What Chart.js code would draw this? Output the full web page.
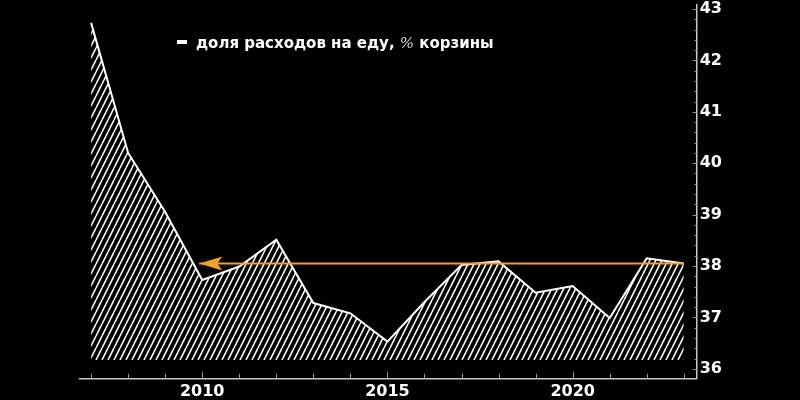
<!DOCTYPE html>
<html>
<head>
<meta charset="utf-8">
<script src="https://cdn.jsdelivr.net/npm/chart.js@4"></script>
<style>
    html, body { margin: 0; padding: 0; background: #000; }
    canvas { display: block; }
</style>
</head>
<body>
<canvas id="chart" width="800" height="400"></canvas>
<script>
// данные: доля расходов на еду, % корзины
const YEARS = [2007, 2008, 2009, 2010, 2011, 2012, 2013, 2014, 2015, 2016, 2017, 2018, 2019, 2020, 2021, 2022, 2023];
const FOOD_SHARE = [42.73, 40.20, 39.05, 37.73, 37.99, 38.51, 37.28, 37.08, 36.53, 37.30, 38.02, 38.09, 37.48, 37.61, 36.99, 38.15, 38.05];
const X_TICK_LABELS = [2010, 2015, 2020];
const Y_TICK_LABELS = [36, 37, 38, 39, 40, 41, 42, 43];
const FILL_BASE = 36.17;
const ARROW_LEVEL = 38.05;
const ARROW_TIP_YEAR = 2009.92;
const LEGEND_TEXT = ['доля расходов на еду, ', '%', ' корзины'];

const FONT = '"DejaVu Sans", Verdana, sans-serif';
const ORANGE = '#f4a128';

function makeHatch() {
    const w = 6, h = 12;
    const c = document.createElement('canvas');
    c.width = w;
    c.height = h;
    const g = c.getContext('2d');
    g.strokeStyle = '#fff';
    g.lineWidth = 1.5;
    [-w, 0, w].forEach(dx => {
        g.beginPath();
        g.moveTo(dx, h);
        g.lineTo(dx + w, 0);
        g.stroke();
    });
    return document.getElementById('chart').getContext('2d').createPattern(c, 'repeat');
}

const innerTicks = {
    id: 'innerTicks',
    afterDraw(chart) {
        const ctx = chart.ctx;
        const x = chart.scales.x, y = chart.scales.y;
        const area = chart.chartArea;
        ctx.save();
        ctx.strokeStyle = '#9a9a9a';
        ctx.lineWidth = 1;
        YEARS.forEach(year => {
            const px = Math.round(x.getPixelForValue(year)) + 0.5;
            const len = X_TICK_LABELS.includes(year) ? 7 : 5;
            ctx.beginPath();
            ctx.moveTo(px, area.bottom);
            ctx.lineTo(px, area.bottom - len);
            ctx.stroke();
        });
        for (let v = 360; v <= 430; v += 2) {
            const py = Math.round(y.getPixelForValue(v / 10)) + 0.5;
            const len = v % 10 === 0 ? 4 : 2;
            ctx.beginPath();
            ctx.moveTo(area.right, py);
            ctx.lineTo(area.right - len, py);
            ctx.stroke();
        }
        ctx.restore();
    }
};

const arrowHead = {
    id: 'arrowHead',
    afterDatasetsDraw(chart) {
        const pt = chart.getDatasetMeta(1).data[0];
        const ctx = chart.ctx;
        ctx.save();
        ctx.fillStyle = ORANGE;
        ctx.beginPath();
        ctx.moveTo(pt.x, pt.y);
        ctx.lineTo(pt.x + 23, pt.y - 7);
        ctx.lineTo(pt.x + 18, pt.y);
        ctx.lineTo(pt.x + 23, pt.y + 7);
        ctx.closePath();
        ctx.fill();
        ctx.restore();
    }
};

const legendText = {
    id: 'legendText',
    afterDraw(chart) {
        const ctx = chart.ctx;
        ctx.save();
        ctx.fillStyle = '#fff';
        ctx.fillRect(177, 40, 10, 4);
        ctx.textBaseline = 'alphabetic';
        let cx = 196;
        const base = 48;
        LEGEND_TEXT.forEach((part, i) => {
            ctx.font = i === 1 ? 'italic 15px "DejaVu Serif", serif' : 'bold 15px ' + FONT;
            ctx.fillStyle = i === 1 ? '#d8d8d8' : '#fff';
            ctx.fillText(part, cx, base);
            cx += ctx.measureText(part).width;
        });
        ctx.restore();
    }
};

new Chart(document.getElementById('chart'), {
    type: 'line',
    data: {
        datasets: [
            {
                data: YEARS.map((year, i) => ({ x: year, y: FOOD_SHARE[i] })),
                borderColor: '#fff',
                borderWidth: 2,
                backgroundColor: makeHatch(),
                fill: { value: FILL_BASE },
                pointRadius: 0,
                tension: 0,
                order: 2
            },
            {
                data: [
                    { x: ARROW_TIP_YEAR, y: ARROW_LEVEL },
                    { x: YEARS[YEARS.length - 1], y: ARROW_LEVEL }
                ],
                borderColor: ORANGE,
                borderWidth: 2,
                pointRadius: 0,
                fill: false,
                order: 1
            }
        ]
    },
    options: {
        responsive: false,
        animation: false,
        layout: { padding: { left: 80, top: 5, right: 75, bottom: -4 } },
        plugins: {
            legend: { display: false },
            tooltip: { enabled: false }
        },
        scales: {
            x: {
                type: 'linear',
                min: 2006.70,
                max: 2023.35,
                afterBuildTicks: scale => { scale.ticks = X_TICK_LABELS.map(v => ({ value: v })); },
                grid: { display: false, drawTicks: false },
                border: { display: true, color: '#c8c8c8', width: 1.5 },
                ticks: {
                    color: '#fff',
                    padding: 3,
                    maxRotation: 0,
                    font: { family: FONT, size: 16, weight: 'bold' },
                    callback: v => String(v)
                }
            },
            y: {
                position: 'right',
                min: 35.806,
                max: 43.078,
                afterBuildTicks: scale => { scale.ticks = Y_TICK_LABELS.map(v => ({ value: v })); },
                grid: { display: false, drawTicks: false },
                border: { display: true, color: '#c8c8c8', width: 1.5 },
                ticks: {
                    color: '#fff',
                    padding: 3,
                    font: { family: FONT, size: 16, weight: 'bold', lineHeight: 0.25 },
                    callback: v => String(v)
                }
            }
        }
    },
    plugins: [innerTicks, arrowHead, legendText]
});
</script>
</body>
</html>
